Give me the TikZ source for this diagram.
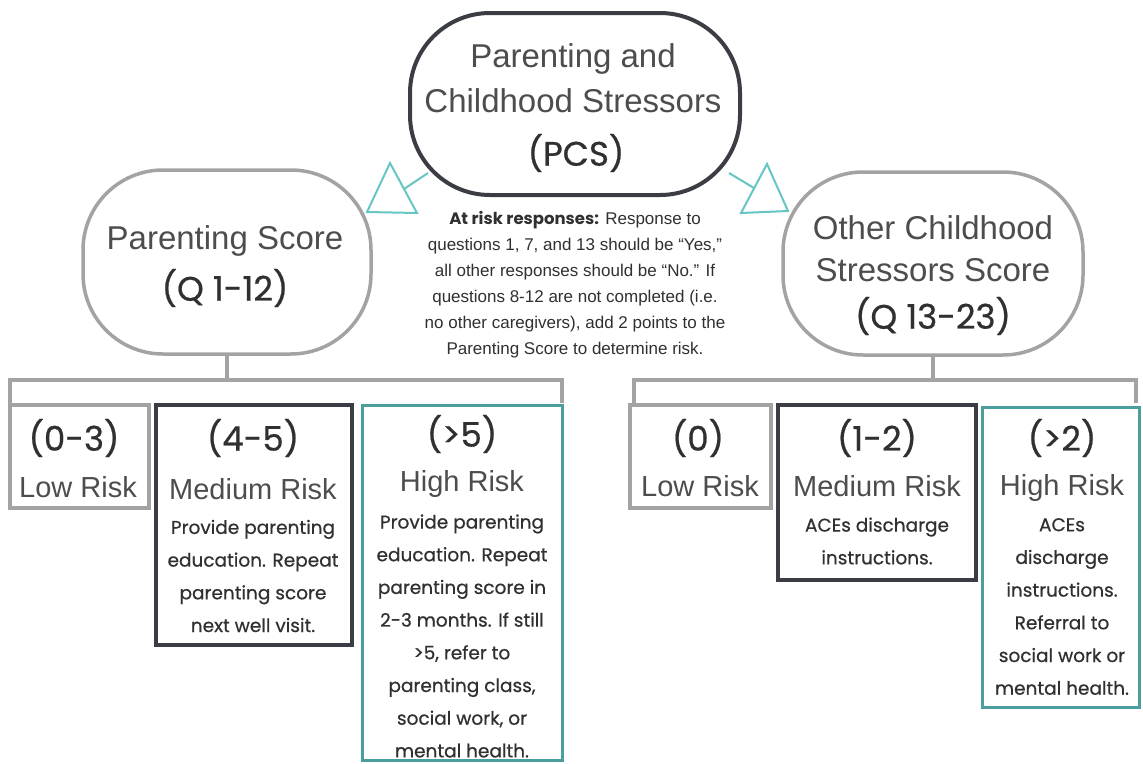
\documentclass[tikz,border=0pt]{standalone}
\usepackage{fontspec}
\setmainfont{Liberation Sans}
\newfontfamily\fut[FakeBold=0.6]{Poppins}
\newfontfamily\futb{Poppins}
\definecolor{darkb}{HTML}{3A3D44}
\definecolor{grayb}{HTML}{A3A3A3}
\definecolor{tealb}{HTML}{4B9E9C}
\definecolor{tealt}{HTML}{66C6C3}
\definecolor{txtl}{HTML}{4D4D4D}
\definecolor{txtd}{HTML}{303030}
\begin{document}
\begin{tikzpicture}[x=1pt,y=-1pt,
  stadium/.style={draw, rounded corners=80pt, minimum width=#1, inner sep=0pt},
  lite/.style={font=\fontsize{33}{37}\selectfont, text=txtl, inner sep=0pt},
  futbig/.style={font=\fut\fontsize{34}{38}\selectfont, text=txtd, inner sep=0pt},
  riskl/.style={font=\fontsize{29}{33}\selectfont, text=txtl, inner sep=0pt},
  rangef/.style={font=\fut\fontsize{34}{38}\selectfont, text=txtd, inner sep=0pt},
  bodyf/.style={font=\fut\fontsize{18.5}{32.7}\selectfont, text=txtd, align=center, inner sep=0pt},
  midf/.style={font=\fontsize{17}{26}\selectfont, text=txtd, align=center, inner sep=0pt},
  bracket/.style={draw=grayb, line width=4pt},
  tri/.style={draw=tealt, line width=2pt, line join=miter},
  boxr/.style={draw, rectangle, inner sep=0pt}
]
\useasboundingbox (0,0) rectangle (1143,763);
\fill[white] (0,0) rectangle (1143,763);

% top node
\node[stadium=330pt, minimum height=182pt, draw=darkb, line width=4pt] (pcs) at (575,104) {};
\node[lite] (pcs1) at (573,59) {Parenting and};
\node[lite] (pcs2) at (573,101) {Childhood Stressors};
\node[futbig] (pcs3) at (576,153) {(PCS)};

% second level
\node[stadium=288pt, minimum height=184pt, draw=grayb, line width=3.5pt] (ps) at (227,262) {};
\node[lite] (ps1) at (225,241) {Parenting Score};
\node[futbig] (ps2) at (225,288) {(Q 1-12)};

\node[stadium=300pt, minimum height=183pt, draw=grayb, line width=3.5pt] (ocs) at (933,263.5) {};
\node[lite] (ocs1) at (933,228) {Other Childhood};
\node[lite] (ocs2) at (933,270) {Stressors Score};
\node[futbig] (ocs3) at (933,316) {(Q 13-23)};

% triangles
\coordinate (lt0) at (428,173);
\coordinate (lt1) at (404,189);
\coordinate (ltA) at (390,163);
\coordinate (ltB) at (367,212);
\coordinate (ltC) at (417,213);
\draw[tri] (lt0) -- (lt1);
\draw[tri] (ltA) -- (ltB) -- (ltC) -- cycle;
\coordinate (rt0) at (729,173);
\coordinate (rt1) at (754,188);
\coordinate (rtA) at (767,164);
\coordinate (rtB) at (741,213);
\coordinate (rtC) at (788,211);
\draw[tri] (rt0) -- (rt1);
\draw[tri] (rtA) -- (rtB) -- (rtC) -- cycle;

% middle text
\node[midf] (mid) at (575,285) {{\futb\bfseries\fontsize{16.5}{26}\selectfont At risk responses:} Response to\\
questions 1, 7, and 13 should be “Yes,”\\
all other responses should be “No.” If\\
questions 8-12 are not completed (i.e.\\
no other caregivers), add 2 points to the\\
Parenting Score to determine risk.};

% brackets
\coordinate (bl1) at (10,403);
\coordinate (bl2) at (10,380);
\coordinate (bl3) at (562,380);
\coordinate (bl4) at (562,403);
\draw[bracket] (bl1) -- (bl2) -- (bl3) -- (bl4);
\draw[bracket] (ps.south) -- (ps.south |- bl2);
\coordinate (br1) at (634,403);
\coordinate (br2) at (634,380);
\coordinate (br3) at (1136,380);
\coordinate (br4) at (1136,403);
\draw[bracket] (br1) -- (br2) -- (br3) -- (br4);
\draw[bracket] (ocs.south) -- (ocs.south |- br2);

% left boxes
\node[boxr, draw=grayb, line width=4pt, minimum width=139pt, minimum height=103pt] (lowL) at (79.5,456.5) {};
\node[rangef] (lowLa) at (74,438) {(0-3)};
\node[riskl] (lowLb) at (78,487) {Low Risk};

\node[boxr, draw=darkb, line width=4pt, minimum width=196pt, minimum height=240pt] (medL) at (254,525) {};
\node[rangef] (medLa) at (253,438) {(4-5)};
\node[riskl] (medLb) at (253,489) {Medium Risk};
\node[bodyf] (medLc) at (253,576) {Provide parenting\\education. Repeat\\parenting score\\next well visit.};

\node[boxr, draw=tealb, line width=3pt, minimum width=200pt, minimum height=355pt] (highL) at (462,582.5) {};
\node[rangef] (highLa) at (462,434) {(>5)};
\node[riskl] (highLb) at (462,484) {High Risk};
\node[bodyf] (highLc) at (462,636) {Provide parenting\\education. Repeat\\parenting score in\\2-3 months. If still\\>5, refer to\\parenting class,\\social work, or\\mental health.};

% right boxes
\node[boxr, draw=grayb, line width=4pt, minimum width=141pt, minimum height=103pt] (lowR) at (700.5,456.5) {};
\node[rangef] (lowRa) at (698,438) {(0)};
\node[riskl] (lowRb) at (700,486) {Low Risk};

\node[boxr, draw=darkb, line width=4pt, minimum width=198pt, minimum height=175pt] (medR) at (877,492.5) {};
\node[rangef] (medRa) at (877,438) {(1-2)};
\node[riskl] (medRb) at (877,486) {Medium Risk};
\node[bodyf] (medRc) at (877,541) {ACEs discharge\\instructions.};

\node[boxr, draw=tealb, line width=3pt, minimum width=157pt, minimum height=300pt] (highR) at (1060.5,557) {};
\node[rangef] (highRa) at (1062,438) {(>2)};
\node[riskl] (highRb) at (1062,488) {High Risk};
\node[bodyf] (highRc) at (1062,606.5) {ACEs\\discharge\\instructions.\\Referral to\\social work or\\mental health.};
\end{tikzpicture}
\end{document}
